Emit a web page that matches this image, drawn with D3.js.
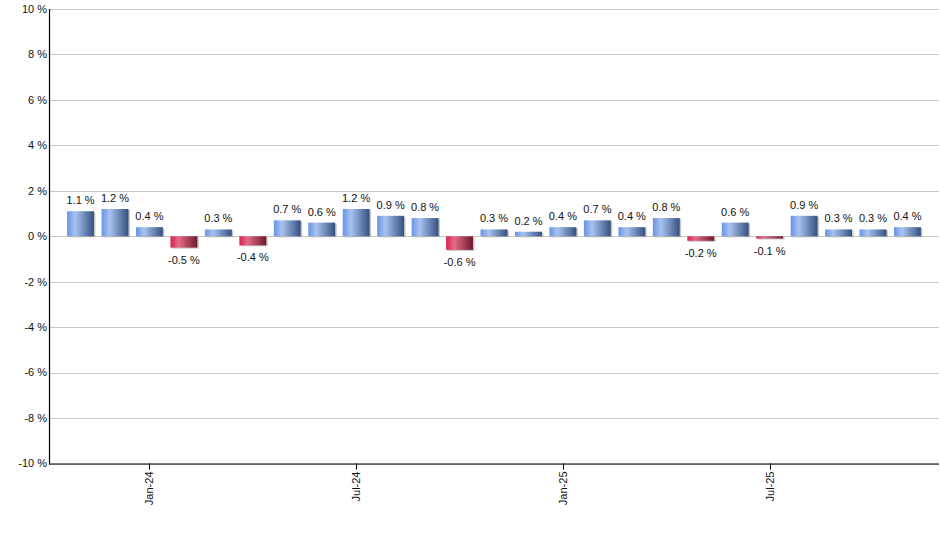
<!DOCTYPE html>
<html><head><meta charset="utf-8">
<script src="https://cdn.jsdelivr.net/npm/d3@7"></script>
<style>body{margin:0;background:#fff}svg{display:block;font-family:"Liberation Sans",Arial,sans-serif}</style>
</head><body><svg id="c" width="940" height="550"></svg>
<script>
const months = ["Nov-23","Dec-23","Jan-24","Feb-24","Mar-24","Apr-24","May-24","Jun-24","Jul-24","Aug-24","Sep-24","Oct-24","Nov-24","Dec-24","Jan-25","Feb-25","Mar-25","Apr-25","May-25","Jun-25","Jul-25","Aug-25","Sep-25","Oct-25","Nov-25"];
const values = [1.1,1.2,0.4,-0.5,0.3,-0.4,0.7,0.6,1.2,0.9,0.8,-0.6,0.3,0.2,0.4,0.7,0.4,0.8,-0.2,0.6,-0.1,0.9,0.3,0.3,0.4];
const xTickLabels = ["Jan-24","Jul-24","Jan-25","Jul-25"];
const yTicks = [-10,-8,-6,-4,-2,0,2,4,6,8,10];

const svg = d3.select("#c");
const L = 49, R = 939, T = 9, B = 463.5;
const x = d3.scaleBand().domain(months).range([L, R]).paddingInner(0.22).paddingOuter(0.525);
const y = d3.scaleLinear().domain([-10, 10]).range([B, T]);

const defs = svg.append("defs");
function grad(id, stops) {
  const g = defs.append("linearGradient").attr("id", id).attr("x1", "0%").attr("x2", "100%").attr("y1", "0%").attr("y2", "0%");
  stops.forEach(s => g.append("stop").attr("offset", s[0]).attr("stop-color", s[1]));
}
grad("gBlue", [["0%", "#6893e4"], ["30%", "#a9c3f1"], ["100%", "#34507e"]]);
grad("gRed", [["0%", "#d6224b"], ["30%", "#e66a88"], ["100%", "#6e1a2c"]]);

// grid
svg.append("g").selectAll("line").data(yTicks).join("line")
  .attr("x1", L).attr("x2", R).attr("y1", d => Math.round(y(d)) + 0.5).attr("y2", d => Math.round(y(d)) + 0.5)
  .attr("stroke", "#c8c8c8").attr("stroke-width", 1);

// y labels
svg.append("g").selectAll("text").data(yTicks).join("text")
  .attr("x", L - 2).attr("y", d => y(d)).attr("dy", "0.35em").attr("text-anchor", "end")
  .attr("font-size", 11).attr("fill", "#111").text(d => d + " %");

const bw = x.bandwidth();
// shadows
svg.append("g").selectAll("rect").data(values).join("rect")
  .attr("x", (d, i) => x(months[i]) + 1.5)
  .attr("y", d => Math.min(y(d), y(0)) + 1)
  .attr("width", bw)
  .attr("height", d => Math.abs(y(d) - y(0)))
  .attr("fill", "#a0a0a0").attr("opacity", 0.6);
// bars
svg.append("g").selectAll("rect").data(values).join("rect")
  .attr("x", (d, i) => x(months[i]))
  .attr("y", d => Math.min(y(d), y(0)))
  .attr("width", bw)
  .attr("height", d => Math.abs(y(d) - y(0)))
  .attr("fill", d => d >= 0 ? "url(#gBlue)" : "url(#gRed)");

// value labels
svg.append("g").selectAll("text").data(values).join("text")
  .attr("x", (d, i) => x(months[i]) + bw / 2)
  .attr("y", d => d >= 0 ? y(d) - 7 : y(d) + 16)
  .attr("text-anchor", "middle").attr("font-size", 11).attr("fill", "#111")
  .text(d => d.toFixed(1) + " %");

// axes lines
svg.append("line").attr("x1", L + 0.5).attr("x2", L + 0.5).attr("y1", T).attr("y2", B + 1).attr("stroke", "#000").attr("stroke-width", 1.2);
svg.append("line").attr("x1", L).attr("x2", R).attr("y1", B + 0.5).attr("y2", B + 0.5).attr("stroke", "#000").attr("stroke-width", 1.2);

// x ticks
const xt = svg.append("g").selectAll("g").data(xTickLabels).join("g")
  .attr("transform", d => `translate(${Math.round(x(d) + bw / 2) + 0.5},${B})`);
xt.append("line").attr("y1", 0).attr("y2", 6).attr("stroke", "#000");
xt.append("text").attr("transform", "rotate(-90)").attr("x", -8).attr("y", 0).attr("dy", "0.35em")
  .attr("text-anchor", "end").attr("font-size", 11).attr("fill", "#111").text(d => d);
</script></body></html>
